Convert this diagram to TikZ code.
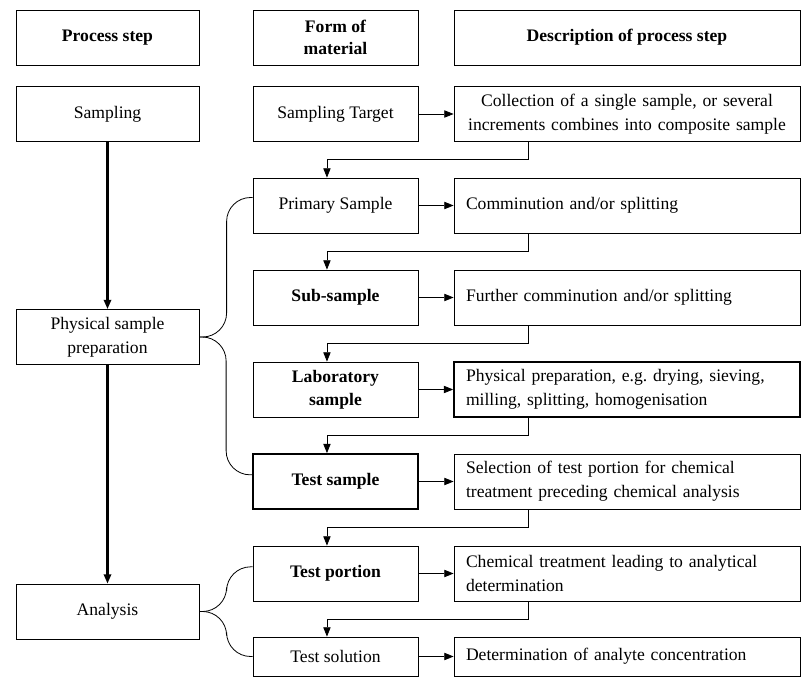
\documentclass[tikz,border=0pt]{standalone}
\usepackage{fontspec}
\setmainfont{Liberation Serif}
\usetikzlibrary{arrows.meta, positioning}
\frenchspacing

\begin{document}
\begin{tikzpicture}[x=0.75pt, y=-0.75pt,
	txt/.style={font=\fontsize{13.2}{18}\selectfont},
	head/.style={font=\fontsize{13.2}{17}\selectfont\bfseries},
	box/.style={draw, line width=0.6pt, minimum height=41.25pt, align=center, inner sep=2pt, txt},
	stepbox/.style={box, minimum width=137.25pt},
	formbox/.style={box, minimum width=123.75pt},
	descbox/.style={box, text width=241.5pt, inner xsep=9pt, align=left},
	flow/.style={line width=0.6pt, -{Triangle[length=7pt, width=5.5pt]}},
	brace/.style={line width=0.6pt, rounded corners=18pt}]
	
	\useasboundingbox (0, 0) rectangle (808, 677);
	
	% column heads
	\node[stepbox, head] (hstep) at (107.5, 37.5) {Process step};
	\node[formbox, head] (hform) at (335.5, 37.5) {Form of\\material};
	\node[box, minimum width=259.5pt, head] (hdesc) at (627, 37.5) {Description of process step};
	
	% process steps
	\node[stepbox] (samp) at (107.5, 114) {Sampling};
	\node[stepbox] (phys) at (107.5, 337) {Physical sample\\preparation};
	\node[stepbox] (ana) at (107.5, 611.5) {Analysis};
	
	% forms of material
	\node[formbox] (m1) at (335.5, 114) {Sampling Target};
	\node[formbox] (m2) at (335.5, 205.5) {Primary Sample};
	\node[formbox, head] (m3) at (335.5, 297.5) {Sub-sample};
	\node[formbox, head] (m4) at (335.5, 389.5) {Laboratory\\sample};
	\node[formbox, head, line width=1.3pt] (m5) at (335.5, 481.5) {Test sample};
	\node[formbox, head] (m6) at (335.5, 573.5) {Test portion};
	\node[formbox, minimum height=29.25pt] (m7) at (335.5, 656.5) {Test solution};
	
	% descriptions
	\node[descbox, align=center] (d1) at (627, 114) {Collection of a single sample, or several\\increments combines into composite sample};
	\node[descbox] (d2) at (627, 205.5) {Comminution and/or splitting};
	\node[descbox] (d3) at (627, 297.5) {Further comminution and/or splitting};
	\node[descbox, line width=1.3pt] (d4) at (627, 389.5) {Physical preparation, e.g. drying, sieving,\\milling, splitting, homogenisation};
	\node[descbox] (d5) at (627, 481.5) {Selection of test portion for chemical\\treatment preceding chemical analysis};
	\node[descbox] (d6) at (627, 573.5) {Chemical treatment leading to analytical\\determination};
	\node[descbox, minimum height=29.25pt] (d7) at (627, 656.5) {Determination of analyte concentration};
	
	\draw[flow, line width=1.6pt] (samp) -- (phys);
	\draw[flow, line width=1.6pt] (phys) -- (ana);
	
	\foreach \m in {1,...,7} {
		\draw[flow] (m\m) -- (d\m);
	}
	\foreach \a/\b in {1/2, 2/3, 3/4, 4/5, 5/6, 6/7} {
		\draw[flow] ([xshift=-74.25pt]d\a.south) -- ++(0, 18) -| ([xshift=-6.4pt]m\b.north);
	}
	
	\draw[brace] (phys.east) -| ([xshift=-19.5pt, yshift=6pt]m2.west) -- ([yshift=6pt]m2.west);
	\draw[brace] (phys.east) -| ([xshift=-19.5pt, yshift=5pt]m5.west) -- ([yshift=5pt]m5.west);
	\draw[brace] (ana.east) -| ([xshift=-19.5pt, yshift=5pt]m6.west) -- ([yshift=5pt]m6.west);
	\draw[brace] (ana.east) -| ([xshift=-19.5pt]m7.west) -- (m7.west);
\end{tikzpicture}
\end{document}
